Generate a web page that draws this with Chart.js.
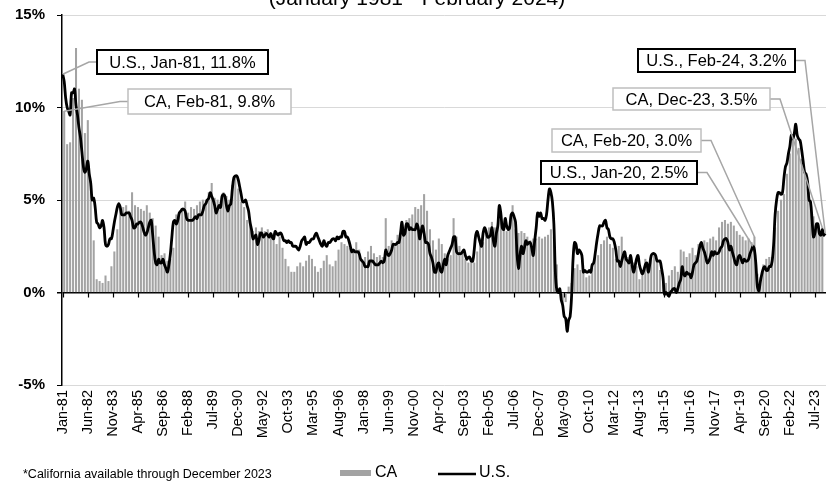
<!DOCTYPE html>
<html>
<head>
<meta charset="utf-8">
<script src="https://cdn.jsdelivr.net/npm/chart.js@4.4.1/dist/chart.umd.min.js"></script>
<style>
  html, body { margin: 0; padding: 0; background: #fff; }
</style>
</head>
<body>
<canvas id="myChart" width="830" height="482"></canvas>
<script>
const monthNames = ["Jan", "Feb", "Mar", "Apr", "May", "Jun", "Jul", "Aug", "Sep", "Oct", "Nov", "Dec"];
const firstYear = 1981;
const labelEvery = 17;
const yTicks = [-5, 0, 5, 10, 15];

// U.S. CPI, year over year %, monthly Jan-81 .. Feb-24
const usCpi = [
  11.8, 11.4, 10.5, 10.0, 9.8, 9.6, 10.8, 10.8, 11.0, 10.1, 9.6, 8.9,
  8.4, 7.6, 6.8, 6.5, 6.7, 7.1, 6.4, 5.9, 5.0, 5.1, 4.6, 3.8,
  3.7, 3.5, 3.6, 3.9, 3.5, 2.6, 2.5, 2.6, 2.9, 2.9, 3.3, 3.8,
  4.2, 4.6, 4.8, 4.6, 4.2, 4.2, 4.2, 4.3, 4.3, 4.3, 4.1, 3.9,
  3.5, 3.5, 3.7, 3.7, 3.8, 3.8, 3.6, 3.3, 3.1, 3.2, 3.5, 3.8,
  3.9, 3.1, 2.2, 1.6, 1.5, 1.8, 1.6, 1.6, 1.8, 1.5, 1.3, 1.1,
  1.5, 2.1, 3.0, 3.8, 3.9, 3.7, 3.9, 4.3, 4.4, 4.5, 4.5, 4.4,
  4.0, 3.9, 3.9, 3.9, 3.9, 4.0, 4.1, 4.0, 4.2, 4.2, 4.2, 4.4,
  4.7, 4.8, 5.0, 5.1, 5.4, 5.2, 5.0, 4.7, 4.3, 4.5, 4.7, 4.6,
  5.2, 5.3, 5.2, 4.7, 4.4, 4.7, 4.8, 5.6, 6.2, 6.3, 6.3, 6.1,
  5.7, 5.3, 4.9, 4.9, 5.0, 4.7, 4.4, 3.8, 3.4, 2.9, 3.0, 3.1,
  2.6, 2.8, 3.2, 3.2, 3.0, 3.1, 3.2, 3.1, 3.0, 3.2, 3.0, 2.9,
  3.3, 3.2, 3.1, 3.2, 3.2, 3.0, 2.8, 2.8, 2.7, 2.8, 2.7, 2.7,
  2.5, 2.5, 2.5, 2.4, 2.3, 2.5, 2.8, 2.9, 3.0, 2.6, 2.7, 2.7,
  2.8, 2.9, 2.9, 3.1, 3.2, 3.0, 2.8, 2.6, 2.5, 2.8, 2.6, 2.5,
  2.7, 2.7, 2.8, 2.9, 2.9, 2.8, 3.0, 2.9, 3.0, 3.0, 3.3, 3.3,
  3.0, 3.0, 2.8, 2.5, 2.2, 2.3, 2.2, 2.2, 2.2, 2.1, 1.8, 1.7,
  1.6, 1.4, 1.4, 1.4, 1.7, 1.7, 1.7, 1.6, 1.5, 1.5, 1.5, 1.6,
  1.7, 1.6, 1.7, 2.3, 2.1, 2.0, 2.1, 2.3, 2.6, 2.6, 2.6, 2.7,
  2.7, 3.2, 3.8, 3.1, 3.2, 3.7, 3.7, 3.4, 3.5, 3.4, 3.4, 3.4,
  3.7, 3.5, 2.9, 3.3, 3.6, 3.2, 2.7, 2.7, 2.6, 2.1, 1.9, 1.6,
  1.1, 1.1, 1.5, 1.6, 1.2, 1.1, 1.5, 1.8, 1.5, 2.0, 2.2, 2.4,
  2.6, 3.0, 3.0, 2.2, 2.1, 2.1, 2.1, 2.2, 2.3, 2.0, 1.8, 1.9,
  1.9, 1.7, 1.7, 2.3, 3.1, 3.3, 3.0, 2.7, 2.5, 3.2, 3.5, 3.3,
  3.0, 3.0, 3.1, 3.5, 2.8, 2.5, 3.2, 3.6, 4.7, 4.3, 3.5, 3.4,
  4.0, 3.6, 3.4, 3.5, 4.2, 4.3, 4.1, 3.8, 2.1, 1.3, 2.0, 2.5,
  2.1, 2.4, 2.8, 2.6, 2.7, 2.7, 2.4, 2.0, 2.8, 3.5, 4.3, 4.1,
  4.3, 4.0, 4.0, 3.9, 4.2, 5.0, 5.6, 5.4, 4.9, 3.7, 1.1, 0.1,
  0.0, 0.2, -0.4, -0.7, -1.3, -1.4, -2.1, -1.5, -1.3, -0.2, 1.8, 2.7,
  2.6, 2.1, 2.3, 2.2, 2.0, 1.1, 1.2, 1.1, 1.1, 1.2, 1.1, 1.5,
  1.6, 2.1, 2.7, 3.2, 3.6, 3.6, 3.6, 3.8, 3.9, 3.5, 3.4, 3.0,
  2.9, 2.9, 2.7, 2.3, 1.7, 1.7, 1.4, 1.7, 2.0, 2.2, 1.8, 1.7,
  1.6, 2.0, 1.5, 1.1, 1.4, 1.8, 2.0, 1.5, 1.2, 1.0, 1.2, 1.5,
  1.6, 1.1, 1.5, 2.0, 2.1, 2.1, 2.0, 1.7, 1.7, 1.7, 1.3, 0.8,
  -0.1, 0.0, -0.1, -0.2, 0.0, 0.1, 0.2, 0.2, 0.0, 0.2, 0.5, 0.7,
  1.4, 1.0, 0.9, 1.1, 1.0, 1.0, 0.8, 1.1, 1.5, 1.6, 1.7, 2.1,
  2.5, 2.7, 2.4, 2.2, 1.9, 1.6, 1.7, 1.9, 2.2, 2.0, 2.2, 2.1,
  2.1, 2.2, 2.4, 2.5, 2.8, 2.9, 2.9, 2.7, 2.3, 2.5, 2.2, 1.9,
  1.6, 1.5, 1.9, 2.0, 1.8, 1.6, 1.8, 1.7, 1.7, 1.8, 2.1, 2.3,
  2.5, 2.3, 1.5, 0.3, 0.1, 0.6, 1.0, 1.3, 1.4, 1.2, 1.2, 1.4,
  1.4, 1.7, 2.6, 4.2, 5.0, 5.4, 5.4, 5.3, 5.4, 6.2, 6.8, 7.0,
  7.5, 7.9, 8.5, 8.3, 8.6, 9.1, 8.5, 8.3, 8.2, 7.7, 7.1, 6.5,
  6.4, 6.0, 5.0, 4.9, 4.0, 3.0, 3.2, 3.7, 3.7, 3.2, 3.1, 3.4,
  3.1, 3.2
];

// California CPI, year over year %, bimonthly (Feb, Apr, Jun, Aug, Oct, Dec) 1981 .. 2023
const caCpi = [
  9.8, 8.0, 8.1, 10.5, 13.2, 11.0,
  10.4, 8.6, 9.3, 6.0, 2.8, 0.7,
  0.6, 0.5, 0.9, 0.6, 1.4, 2.2,
  3.4, 4.5, 4.6, 4.7, 4.4, 5.4,
  4.7, 4.6, 4.5, 4.4, 4.7, 4.3,
  4.0, 3.6, 3.0, 2.0, 2.1, 1.7,
  1.8, 2.4, 4.2, 4.2, 4.4, 4.9,
  4.3, 4.6, 4.5, 4.7, 4.9, 5.0,
  5.0, 5.4, 5.9, 5.1, 5.0, 4.9,
  5.4, 5.2, 5.0, 5.8, 6.2, 5.6,
  4.9, 4.6, 3.9, 3.7, 3.3, 3.5,
  3.3, 3.5, 3.3, 3.4, 3.0, 3.2,
  2.6, 3.0, 2.4, 1.8, 1.4, 1.1,
  1.1, 1.4, 1.6, 1.4, 1.7, 2.0,
  1.8, 1.4, 1.1, 1.3, 1.7, 2.0,
  1.5, 1.4, 1.7, 2.3, 2.7, 2.6,
  2.5, 2.4, 2.2, 2.7, 2.3, 1.8,
  1.9, 2.2, 2.5, 2.1, 1.9, 2.0,
  1.9, 4.0, 2.5, 2.8, 2.6, 3.1,
  3.0, 3.4, 3.9, 4.0, 4.2, 4.6,
  4.5, 4.7, 5.3, 4.4, 3.4, 2.8,
  2.3, 2.9, 2.6, 2.1, 1.8, 2.0,
  4.0, 3.0, 2.5, 2.1, 1.8, 1.6,
  1.8, 1.6, 2.2, 2.9, 2.7, 3.4,
  3.5, 3.8, 3.5, 3.6, 3.9, 3.4,
  3.3, 3.6, 4.7, 3.4, 3.2, 3.3,
  3.2, 3.0, 2.8, 2.9, 2.9, 3.0,
  2.9, 3.0, 3.1, 3.4, 3.0, 1.5,
  0.2, -0.6, -0.5, 0.3, 0.5, 1.3,
  1.5, 1.2, 1.0, 0.8, 0.9, 1.3,
  1.9, 2.0, 2.6, 2.8, 3.0, 2.6,
  2.4, 1.8, 2.5, 3.0, 2.2, 1.9,
  1.5, 1.6, 1.4, 0.7, 0.9, 1.8,
  1.4, 2.0, 2.1, 1.8, 1.2, 0.8,
  0.5, 0.9, 1.2, 1.4, 1.1, 2.3,
  2.2, 1.9, 2.1, 2.4, 2.0, 2.6,
  2.4, 2.8, 2.7, 2.9, 3.0, 2.8,
  3.5, 3.8, 3.9, 3.7, 3.8, 3.6,
  3.3, 3.1, 3.0, 2.8, 2.9, 2.7,
  3.0, 1.0, 0.8, 1.5, 1.8, 1.9,
  1.9, 3.5, 4.4, 5.0, 5.3, 6.4,
  7.5, 8.2, 8.3, 7.8, 7.2, 6.5,
  5.7, 5.0, 4.1, 3.5, 3.2, 3.5
];

// month labels like "Jan-81"
const labels = usCpi.map((v, i) => {
  const y = firstYear + Math.floor(i / 12);
  return monthNames[i % 12] + "-" + String(y).slice(2);
});

// CA only has even months, put nulls in between
const caMonthly = labels.map((l, i) => (i % 2 === 1 ? caCpi[(i - 1) / 2] ?? null : null));

const FONT = '"Liberation Sans", Arial, sans-serif';
const barGray = "#a3a3a3";

// callout boxes: which series/month, where the box sits
const callouts = [
  { name: "U.S.", data: usCpi, index: 0, x: 97, y: 50, w: 171, h: 24, side: "left", dark: true },
  { name: "CA", data: caMonthly, index: 1, x: 128, y: 89, w: 163, h: 25, side: "left", dark: false },
  { name: "U.S.", data: usCpi, index: 517, x: 638, y: 49, w: 157, h: 23, side: "right", dark: true },
  { name: "CA", data: caMonthly, index: 515, x: 613, y: 88, w: 157, h: 22, side: "right", dark: false },
  { name: "CA", data: caMonthly, index: 469, x: 552, y: 129, w: 149, h: 23, side: "right", dark: false },
  { name: "U.S.", data: usCpi, index: 468, x: 541, y: 161, w: 156, h: 23, side: "right", dark: true }
];

const extras = {
  id: "extras",
  afterDatasetsDraw(chart) {
    const { ctx, scales } = chart;
    const xs = scales.x, ys = scales.y;

    // tick marks on the zero line
    const y0 = ys.getPixelForValue(0);
    ctx.save();
    ctx.strokeStyle = "#000";
    ctx.lineWidth = 1.2;
    labels.forEach((l, i) => {
      if (i % labelEvery !== 0) return;
      const x = Math.round(xs.getPixelForValue(i)) + 0.5;
      ctx.beginPath();
      ctx.moveTo(x, y0);
      ctx.lineTo(x, y0 + 5);
      ctx.stroke();
    });

    // callouts
    callouts.forEach((c) => {
      const val = c.data[c.index];
      const px = xs.getPixelForValue(c.index);
      const py = ys.getPixelForValue(val);
      const my = c.y + c.h / 2;
      const sx = c.side === "left" ? c.x : c.x + c.w;
      const ex = c.side === "left" ? sx - 8 : sx + 10;

      ctx.strokeStyle = "#a6a6a6";
      ctx.lineWidth = 1.5;
      ctx.beginPath();
      ctx.moveTo(sx, my);
      ctx.lineTo(ex, my);
      ctx.lineTo(px, py);
      ctx.stroke();

      ctx.fillStyle = "#fff";
      ctx.fillRect(c.x, c.y, c.w, c.h);
      ctx.strokeStyle = c.dark ? "#000" : "#bfbfbf";
      ctx.lineWidth = c.dark ? 2 : 1.5;
      ctx.strokeRect(c.x, c.y, c.w, c.h);

      ctx.fillStyle = "#000";
      ctx.font = "16.5px " + FONT;
      ctx.textAlign = "center";
      ctx.textBaseline = "middle";
      ctx.fillText(c.name + ", " + labels[c.index] + ", " + val.toFixed(1) + "%", c.x + c.w / 2, my + 1);
    });
    ctx.restore();
  },
  afterDraw(chart) {
    const { ctx } = chart;
    ctx.save();
    // title, mostly off the top
    ctx.fillStyle = "#000";
    ctx.font = "21px " + FONT;
    ctx.textAlign = "center";
    ctx.textBaseline = "alphabetic";
    ctx.fillText("(January 1981 - February 2024)", 417, 5);

    // footnote
    ctx.textAlign = "left";
    ctx.textBaseline = "middle";
    ctx.font = "12.5px " + FONT;
    ctx.fillText("*California available through December 2023", 23, 475);

    // legend
    ctx.fillStyle = barGray;
    ctx.fillRect(340, 470, 31, 6);
    ctx.fillStyle = "#000";
    ctx.font = "16px " + FONT;
    ctx.fillText("CA", 375, 473);

    ctx.strokeStyle = "#000";
    ctx.lineWidth = 2.5;
    ctx.beginPath();
    ctx.moveTo(438, 474);
    ctx.lineTo(476, 474);
    ctx.stroke();
    ctx.fillText("U.S.", 479, 473);
    ctx.restore();
  }
};

const ctx = document.getElementById("myChart").getContext("2d");

const chart = new Chart(ctx, {
  type: "bar",
  data: {
    labels: labels,
    datasets: [
      {
        type: "line",
        label: "U.S.",
        data: usCpi,
        borderColor: "#000",
        borderWidth: 2.8,
        pointRadius: 0,
        tension: 0.35,
        order: 0
      },
      {
        label: "CA",
        data: caMonthly,
        backgroundColor: barGray,
        barThickness: 1.4,
        order: 1
      }
    ]
  },
  options: {
    responsive: false,
    animation: false,
    devicePixelRatio: 1,
    layout: { padding: { top: 15, right: 4, left: 0, bottom: 45 } },
    plugins: {
      legend: { display: false },
      tooltip: { enabled: false }
    },
    scales: {
      x: {
        grid: { display: false, drawTicks: false },
        border: { display: false },
        ticks: {
          autoSkip: false,
          minRotation: 90,
          maxRotation: 90,
          padding: 5,
          color: "#000",
          font: { family: FONT, size: 14.5 },
          callback: (v, i) => (i % labelEvery === 0 ? labels[i] : "")
        },
        afterFit: (scale) => {
          scale.height = 52;
          scale.paddingLeft = 0;
          scale.paddingRight = 0;
        }
      },
      y: {
        min: yTicks[0],
        max: yTicks[yTicks.length - 1],
        afterBuildTicks: (scale) => { scale.ticks = yTicks.map((v) => ({ value: v })); },
        border: { display: true, color: "#000", width: 1.5 },
        grid: {
          color: (c) => (c.tick && c.tick.value === 0 ? "#000" : "#d9d9d9"),
          lineWidth: (c) => (c.tick && c.tick.value === 0 ? 1.5 : 1),
          tickColor: "#000",
          tickLength: 5
        },
        ticks: {
          padding: 12,
          color: "#000",
          font: { family: FONT, size: 15, weight: "bold" },
          callback: (v) => v + "%"
        },
        afterFit: (scale) => {
          scale.width = 62;
          scale.paddingTop = 0;
          scale.paddingBottom = 0;
        }
      }
    }
  },
  plugins: [extras]
});
</script>
</body>
</html>
